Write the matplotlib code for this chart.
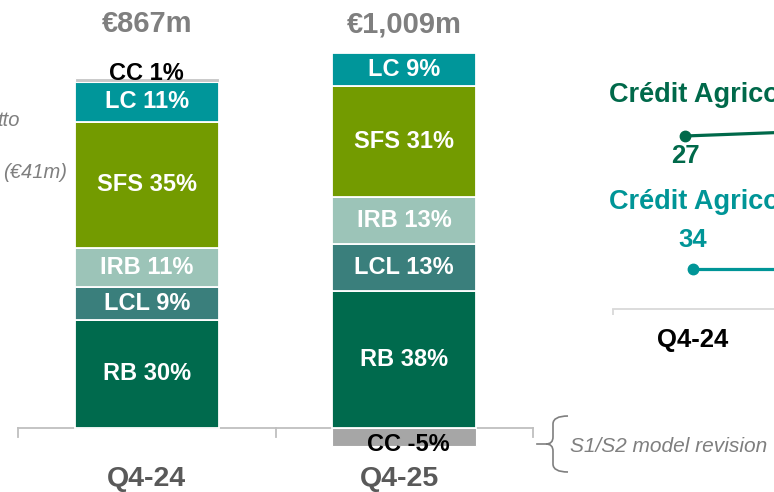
import matplotlib
matplotlib.use('Agg')
import matplotlib.pyplot as plt
from matplotlib.path import Path
from matplotlib.patches import PathPatch
import matplotlib.transforms as mtransforms
import numpy as np

plt.rcParams['font.family'] = ['Liberation Sans', 'DejaVu Sans']

# ---------------- data ----------------
quarters = ['Q4-24', 'Q4-25']
totals = ['€867m', '€1,009m']
segments = ['RB', 'LCL', 'IRB', 'SFS', 'LC']
rb_share = [30, 38]
lcl_share = [9, 13]
irb_share = [11, 13]
sfs_share = [35, 31]
lc_share = [11, 9]
cc_share = [1, -5]
shares = [rb_share, lcl_share, irb_share, sfs_share, lc_share]

line_names = ['Crédit Agricole Italia', 'Crédit Agricole S.A.']
line_quarters = ['Q4-24', 'Q4-25']
cai_cor = [27, 28]
casa_cor = [34, 34]

left_notes = ['tto', '(€41m)']
cc_note = 'S1/S2 model revision'

# ---------------- style ----------------
seg_colors = ['#006A4D', '#3A7F7C', '#9CC4B8', '#739B00', '#00969A']
cc_color = '#A6A6A6'
dark_green = '#00694A'
teal = '#009597'
gray_txt = '#7F7F7F'

W, H = 774, 492
fig = plt.figure(figsize=(W / 100, H / 100), dpi=100)


def fx(px):
    return px / W


def fy(py):
    return 1 - py / H


PX = 3.6  # pixels per percentage point
ax = fig.add_axes([fx(18), 0, fx(533) - fx(18), 1])
ax.set_xlim(-0.5, 1.5)
ax.set_ylim(-(H - 427.5) / PX, 427.5 / PX)
ax.axis('off')

x = np.arange(len(quarters))
bw = 0.56
bottom = np.zeros(len(quarters))
for seg, vals, col in zip(segments, shares, seg_colors):
    vals = np.array(vals, dtype=float)
    ax.bar(x, vals, bw, bottom=bottom, color=col, edgecolor='white',
           linewidth=1.3, zorder=3)
    for i in range(len(x)):
        ax.text(x[i], bottom[i] + vals[i] / 2, f'{seg} {int(vals[i])}%',
                ha='center', va='center', color='white', fontsize=17,
                fontweight='bold', zorder=5)
    bottom += vals

cc = np.array(cc_share, dtype=float)
cc_bottom = np.where(cc > 0, bottom, 0)
cc_colors = ['#C8C8C8' if v > 0 else cc_color for v in cc]
ax.bar(x, cc, bw, bottom=cc_bottom, color=cc_colors, edgecolor='white',
       linewidth=0.8, zorder=3)
cc_dy = [1.2, 0.2]
for i in range(len(x)):
    yv = cc_bottom[i] + cc[i]
    ax.text(x[i] + (0.0 if cc[i] > 0 else 0.015), yv + cc_dy[i],
            f'CC {int(cc[i])}%', ha='center', va='center', color='black',
            fontsize=17, fontweight='bold', zorder=6)

# baseline and ticks
ax.plot([-0.5, 1.5], [0, 0], color='#BFBFBF', lw=1.3, zorder=1,
        clip_on=False)
for t in [-0.5, 0.5, 1.5]:
    ax.plot([t, t], [0, -2.5], color='#BFBFBF', lw=1.3, zorder=1,
            clip_on=False)

q_dx = [0.0, -0.02]
for i in range(len(x)):
    ax.text(x[i], 112.0, totals[i], ha='center', va='center',
            color=gray_txt, fontsize=21, fontweight='bold')
    ax.text(x[i] + q_dx[i], -14.2, quarters[i], ha='center', va='center',
            color='#595959', fontsize=20.5, fontweight='bold')

# left notes (cut off in the source)
fig.text(fx(20), fy(121), left_notes[0], ha='right', va='center',
         color=gray_txt, fontsize=14.5, style='italic')
fig.text(fx(67), fy(172), left_notes[1], ha='right', va='center',
         color=gray_txt, fontsize=14.5, style='italic')

# brace + note
def pt(px, py):
    return (fx(px), fy(py))

verts = [pt(568, 416), pt(553, 416), pt(553, 424), pt(553, 437),
         pt(553, 444), pt(546, 444), pt(553, 444), pt(553, 451),
         pt(553, 464), pt(553, 472), pt(568, 472)]
codes = [Path.MOVETO, Path.CURVE3, Path.CURVE3, Path.LINETO,
         Path.CURVE3, Path.CURVE3, Path.CURVE3, Path.CURVE3,
         Path.LINETO, Path.CURVE3, Path.CURVE3]
fig.add_artist(PathPatch(Path(verts, codes), transform=fig.transFigure,
                         fill=False, edgecolor=gray_txt, lw=1.2))
fig.add_artist(plt.Line2D([fx(537), fx(548)], [fy(444), fy(444)],
                          transform=fig.transFigure, color=gray_txt, lw=1.2))
fig.text(fx(570), fy(446), cc_note, ha='left', va='center', color=gray_txt,
         fontsize=15, style='italic')

# ---------------- right panel ----------------
r_bottom = fy(309)
axr = fig.add_axes([fx(613), r_bottom, 320 / W, 1 - r_bottom])
axr.set_xlim(-0.5, 1.5)
axr.set_ylim(0, 1)
for s in ['top', 'right', 'left']:
    axr.spines[s].set_visible(False)
axr.spines['bottom'].set_color('#D9D9D9')
axr.spines['bottom'].set_linewidth(1.3)
axr.set_yticks([])
axr.set_xticks([-0.5])
axr.set_xticklabels([''])
axr.tick_params(axis='x', direction='out', length=4.5, color='#D9D9D9',
                width=1.3)
axr.patch.set_alpha(0)
trans = mtransforms.blended_transform_factory(axr.transData, axr.transAxes)
# only the first quarter is inside the visible window
axr.text(0, -31 / 309, line_quarters[0], transform=trans, ha='center',
         va='center', color='black', fontsize=18.5, fontweight='bold')

ax1 = axr.twinx()
ax1.set_ylim(27 - 173 / 6, 27 - 173 / 6 + 309 / 6)
ax1.axis('off')
x1 = np.arange(len(cai_cor)) - 0.05
ax1.plot(x1, cai_cor, color=dark_green, lw=2.3, marker='o', ms=7.5,
         solid_capstyle='round')
ax1.annotate(str(cai_cor[0]), (x1[0], cai_cor[0]), xytext=(0, -14.5),
             textcoords='offset points', ha='center', va='center',
             color=dark_green, fontsize=18.5, fontweight='bold')

ax2 = axr.twinx()
ax2.set_ylim(34 - 40 / 6, 34 - 40 / 6 + 309 / 6)
ax2.axis('off')
x2 = np.arange(len(casa_cor))
ax2.plot(x2, casa_cor, color=teal, lw=2.3, marker='o', ms=7.5)
ax2.annotate(str(casa_cor[0]), (x2[0], casa_cor[0]), xytext=(0, 21),
             textcoords='offset points', ha='center', va='center',
             color=teal, fontsize=18.5, fontweight='bold')

fig.text(fx(609), fy(95), line_names[0], ha='left', va='center',
         color=dark_green, fontsize=19.5, fontweight='bold')
fig.text(fx(609), fy(202), line_names[1], ha='left', va='center',
         color=teal, fontsize=19.5, fontweight='bold')

fig.savefig('out.png', dpi=100)
